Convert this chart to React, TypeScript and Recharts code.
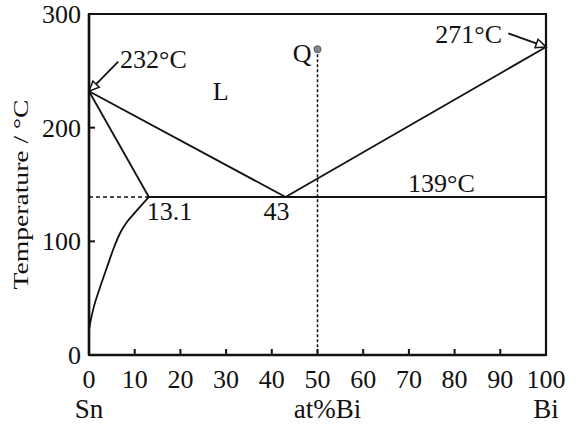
import React from 'react';
import { LineChart, Line, XAxis, YAxis, ReferenceLine, ReferenceDot, ReferenceArea, Label } from 'recharts';

const FONT = "'Liberation Serif', 'Times New Roman', Times, serif";
const INK = '#111';
const TEXT_STYLE: React.CSSProperties = { fontFamily: FONT };

// tick values
const xTicks = [0, 10, 20, 30, 40, 50, 60, 70, 80, 90, 100];
const yTicks = [0, 100, 200, 300];

// phase boundaries (x = at% Bi, t = temperature °C)
const liquidus = [
  { x: 0, t: 232 },
  { x: 43, t: 139 },
  { x: 100, t: 271 },
];
const solidus = [
  { x: 0, t: 232 },
  { x: 13.1, t: 139 },
];
const solvus = [
  { x: 0, t: 22 },
  { x: 0.4, t: 31 },
  { x: 1.1, t: 43 },
  { x: 2.2, t: 57 },
  { x: 4.0, t: 78 },
  { x: 5.5, t: 95 },
  { x: 6.9, t: 108 },
  { x: 8.3, t: 117 },
  { x: 10.0, t: 125 },
  { x: 13.1, t: 139 },
];
const eutecticSolid = [
  { x: 13.1, t: 139 },
  { x: 100, t: 139 },
];
const eutecticDashed = [
  { x: 0, t: 139 },
  { x: 13.1, t: 139 },
];
const pointQ = { x: 50, t: 269 };
const qDrop = [
  { x: 50, t: 269 },
  { x: 50, t: 0 },
];

// arrows: from annotation to melting point
const arrowSn = [{ x: 6.4, y: 258 }, { x: 0, y: 232 }];
const arrowBi = [{ x: 91.75, y: 283 }, { x: 100, y: 271 }];

// annotation texts anchored at data points
const annotations = [
  { key: 'sn', text: '232°C', x: 0, t: 232 },
  { key: 'bi', text: '271°C', x: 100, t: 271 },
  { key: 'eut', text: '139°C', x: 100, t: 139 },
  { key: 'c131', text: '13.1', x: 13.1, t: 139 },
  { key: 'c43', text: '43', x: 43, t: 139 },
  { key: 'L', text: 'L', x: 28.8, t: 224 },
  { key: 'Q', text: 'Q', x: 50, t: 269 },
];

const annotationStyle: Record<string, { dx: number; dy: number; anchor: 'start' | 'middle' | 'end' }> = {
  sn: { dx: 31, dy: -23, anchor: 'start' },
  bi: { dx: -44, dy: -4, anchor: 'end' },
  eut: { dx: -138, dy: -5, anchor: 'start' },
  c131: { dx: -2, dy: 23, anchor: 'start' },
  c43: { dx: -22, dy: 23, anchor: 'start' },
  L: { dx: 0, dy: 0, anchor: 'middle' },
  Q: { dx: -6, dy: 13, anchor: 'end' },
};

const XTick = (props: any) => {
  const { x, y, payload } = props;
  const v = payload.value;
  return (
    <g>
      {v > 0 && v < 100 && <line x1={x} y1={y} x2={x} y2={y - 6} stroke={INK} strokeWidth={2} />}
      <text x={x} y={y + 33} textAnchor="middle" style={TEXT_STYLE} fontSize={26} fill={INK}>
        {v}
      </text>
    </g>
  );
};

const YTick = (props: any) => {
  const { x, y, payload } = props;
  const v = payload.value;
  return (
    <g>
      {v > 0 && v < 300 && <line x1={x} y1={y} x2={x + 6} y2={y} stroke={INK} strokeWidth={2} />}
      <text x={x - 8} y={y + 9} textAnchor="end" style={TEXT_STYLE} fontSize={26} fill={INK}>
        {v}
      </text>
    </g>
  );
};

const arrowShape = (p: any) => {
  const { x1, y1, x2, y2 } = p;
  const ang = Math.atan2(y2 - y1, x2 - x1);
  const len = 11;
  const spread = 0.42;
  const ax = x2 - len * Math.cos(ang - spread);
  const ay = y2 - len * Math.sin(ang - spread);
  const bx = x2 - len * Math.cos(ang + spread);
  const by = y2 - len * Math.sin(ang + spread);
  return (
    <g>
      <line x1={x1} y1={y1} x2={x2} y2={y2} stroke={INK} strokeWidth={1.8} />
      <polygon points={`${x2},${y2} ${ax},${ay} ${bx},${by}`} fill="#fff" stroke={INK} strokeWidth={1.5} />
    </g>
  );
};

const makeTextShape = (text: string, key: string) => (p: any) => {
  const s = annotationStyle[key];
  return (
    <text x={p.cx + s.dx} y={p.cy + s.dy} textAnchor={s.anchor} style={TEXT_STYLE} fontSize={26} fill={INK}>
      {text}
    </text>
  );
};

const XNames = (p: any) => {
  const vb = p.viewBox || { x: 89, y: 355, width: 457, height: 50 };
  const by = vb.y + 63;
  return (
    <g style={TEXT_STYLE} fontSize={27} fill={INK}>
      <text x={vb.x} y={by} textAnchor="middle" style={TEXT_STYLE}>Sn</text>
      <text x={vb.x + vb.width * 0.522} y={by} textAnchor="middle" style={TEXT_STYLE}>at%Bi</text>
      <text x={vb.x + vb.width} y={by} textAnchor="middle" style={TEXT_STYLE}>Bi</text>
    </g>
  );
};

const YName = (p: any) => {
  const vb = p.viewBox || { x: 29, y: 14, width: 60, height: 341 };
  const cx = vb.x - 1;
  const cy = vb.y + vb.height / 2 + 10;
  return (
    <text
      x={cx}
      y={cy}
      transform={`rotate(-90 ${cx} ${cy})`}
      textAnchor="middle"
      style={TEXT_STYLE}
      fontSize={22}
      textLength={190}
      lengthAdjust="spacingAndGlyphs"
      fill={INK}
    >
      Temperature / °C
    </text>
  );
};

export default function App() {
  return (
    <div style={{ position: 'absolute', left: 0, top: 0, width: 579, height: 427, background: '#fff', fontFamily: FONT }}>
      <LineChart width={579} height={427} margin={{ top: 14, right: 33, bottom: 22, left: 29 }} style={{ fontFamily: FONT }}>
        <XAxis
          type="number"
          dataKey="x"
          domain={[0, 100]}
          ticks={xTicks}
          interval={0}
          tickSize={0}
          tickMargin={0}
          tickLine={false}
          tick={<XTick />}
          height={50}
          axisLine={{ stroke: INK, strokeWidth: 2.5 }}
        >
          <Label content={XNames} />
        </XAxis>
        <YAxis
          type="number"
          dataKey="t"
          domain={[0, 300]}
          ticks={yTicks}
          interval={0}
          tickSize={0}
          tickMargin={0}
          tickLine={false}
          tick={<YTick />}
          width={60}
          axisLine={{ stroke: INK, strokeWidth: 2.5 }}
        >
          <Label content={YName} />
        </YAxis>
        <ReferenceArea x1={0} x2={100} y1={0} y2={300} fill="none" stroke={INK} strokeWidth={2.2} />

        <Line data={eutecticDashed} dataKey="t" type="linear" stroke={INK} strokeWidth={1.5} strokeDasharray="4 3" dot={false} isAnimationActive={false} />
        <Line data={qDrop} dataKey="t" type="linear" stroke={INK} strokeWidth={1.5} strokeDasharray="3 2" dot={false} isAnimationActive={false} />
        <Line data={liquidus} dataKey="t" type="linear" stroke={INK} strokeWidth={1.8} dot={false} isAnimationActive={false} />
        <Line data={solidus} dataKey="t" type="linear" stroke={INK} strokeWidth={1.8} dot={false} isAnimationActive={false} />
        <Line data={solvus} dataKey="t" type="monotone" stroke={INK} strokeWidth={1.8} dot={false} isAnimationActive={false} />
        <Line data={eutecticSolid} dataKey="t" type="linear" stroke={INK} strokeWidth={1.8} dot={false} isAnimationActive={false} />

        <ReferenceLine segment={arrowSn} shape={arrowShape} />
        <ReferenceLine segment={arrowBi} shape={arrowShape} />

        <ReferenceDot x={pointQ.x} y={pointQ.t} r={3.5} fill="#888" stroke="#555" strokeWidth={1} />

        {annotations.map((a) => (
          <ReferenceDot key={a.key} x={a.x} y={a.t} r={1} shape={makeTextShape(a.text, a.key)} />
        ))}
      </LineChart>
    </div>
  );
}
